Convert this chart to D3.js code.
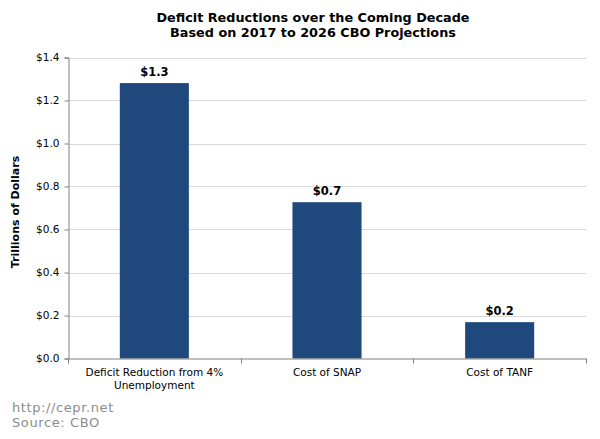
<!DOCTYPE html>
<html><head><meta charset="utf-8">
<script src="https://cdn.jsdelivr.net/npm/d3@7"></script>
<style>body{margin:0;background:#fff}</style>
</head><body>
<svg id="c" width="600" height="439"></svg>
<script>
const categories = [["Deficit Reduction from 4%", "Unemployment"], ["Cost of SNAP"], ["Cost of TANF"]];
const values = [1.281, 0.727, 0.169];
const valueLabels = ["$1.3", "$0.7", "$0.2"];
const yTicks = [0, 0.2, 0.4, 0.6, 0.8, 1.0, 1.2, 1.4];
const titleLines = ["Deficit Reductions over the Coming Decade", "Based on 2017 to 2026 CBO Projections"];
const footer = ["http://cepr.net", "Source: CBO"];

const svg = d3.select("#c");
const font = "DejaVu Sans, Verdana, sans-serif";
const L = 68, R = 586, T = 57.5, B = 358.5;
const x = d3.scaleBand().domain(d3.range(categories.length)).range([L, R]).paddingInner(0).paddingOuter(0);
const y = d3.scaleLinear().domain([0, 1.4]).range([B, T]);

// gridlines
svg.append("g").selectAll("line").data(yTicks.slice(1)).join("line")
  .attr("x1", L).attr("x2", R).attr("y1", d => Math.round(y(d)) + 0.5).attr("y2", d => Math.round(y(d)) + 0.5)
  .attr("stroke", "#d9d9d9").attr("stroke-width", 1);

// bars
const bw = x.bandwidth() * 0.4;
svg.append("g").selectAll("rect").data(values).join("rect")
  .attr("x", (d, i) => x(i) + (x.bandwidth() - bw) / 2)
  .attr("width", bw)
  .attr("y", d => y(d)).attr("height", d => B - y(d))
  .attr("fill", "#1f497d");

// value labels
svg.append("g").selectAll("text").data(values).join("text")
  .attr("x", (d, i) => x(i) + x.bandwidth() / 2)
  .attr("y", d => y(d) - 7)
  .attr("text-anchor", "middle")
  .attr("font-family", font).attr("font-weight", "bold").attr("font-size", 11.5)
  .text((d, i) => valueLabels[i]);

// y axis
const yAxis = d3.axisLeft(y).tickValues(yTicks).tickSize(4).tickPadding(5)
  .tickFormat(d => "$" + d3.format(".1f")(d));
const gy = svg.append("g").attr("transform", `translate(${L + 0.5},0)`).call(yAxis);
gy.select(".domain").attr("stroke", "#808080");
gy.selectAll(".tick line").attr("stroke", "#808080");
gy.selectAll(".tick text").attr("font-family", font).attr("font-size", 10.5).attr("fill", "#000");

// x axis
const xAxis = d3.axisBottom(x).tickSize(0).tickFormat("");
const gx = svg.append("g").attr("transform", `translate(0,${B})`).call(xAxis);
gx.select(".domain").attr("stroke", "#808080");
svg.append("g").selectAll("line").data(d3.range(categories.length + 1)).join("line")
  .attr("x1", i => Math.round(L + i * x.bandwidth()) + 0.5).attr("x2", i => Math.round(L + i * x.bandwidth()) + 0.5)
  .attr("y1", B).attr("y2", B + 5).attr("stroke", "#808080");

const xl = svg.append("g").selectAll("text").data(categories).join("text")
  .attr("text-anchor", "middle")
  .attr("font-family", font).attr("font-size", 10.5).attr("fill", "#000");
xl.each(function(lines, i) {
  d3.select(this).selectAll("tspan").data(lines).join("tspan")
    .attr("x", x(i) + x.bandwidth() / 2)
    .attr("y", (d, j) => 376 + j * 13)
    .text(d => d);
});

// y axis title
svg.append("text")
  .attr("transform", `translate(18.5,212) rotate(-90)`)
  .attr("text-anchor", "middle")
  .attr("font-family", font).attr("font-weight", "bold").attr("font-size", 11)
  .text("Trillions of Dollars");

// title
svg.append("g").selectAll("text").data(titleLines).join("text")
  .attr("x", 313).attr("y", (d, i) => 22.3 + i * 14.5)
  .attr("text-anchor", "middle")
  .attr("font-family", font).attr("font-weight", "bold").attr("font-size", 12.8)
  .text(d => d);

// footer
svg.append("g").selectAll("text").data(footer).join("text")
  .attr("x", 12).attr("y", (d, i) => 412 + i * 15)
  .attr("font-family", font).attr("font-size", 13).attr("letter-spacing", 0.6).attr("fill", "#8c8c8c")
  .text(d => d);
</script>
</body></html>
